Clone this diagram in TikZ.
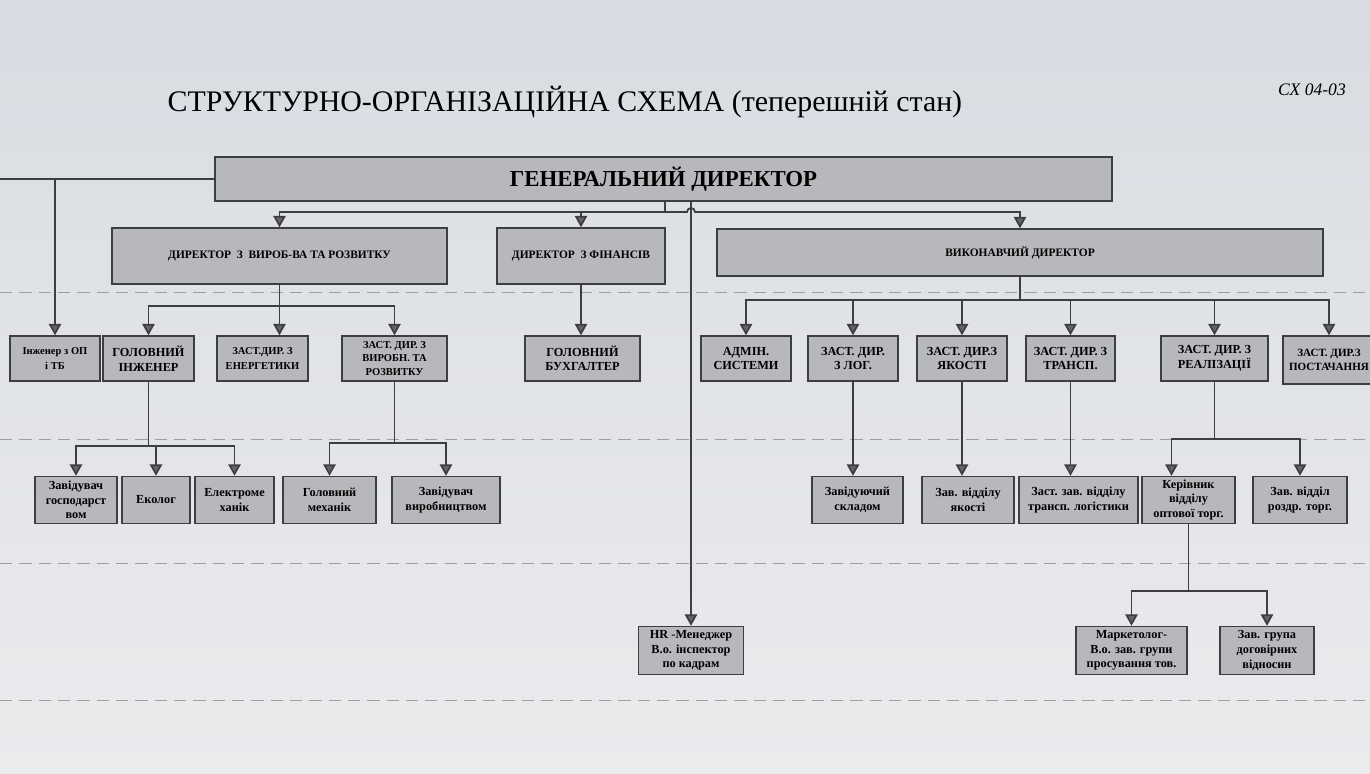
\documentclass[tikz,border=0pt]{standalone}
\usepackage{fontspec}
\setmainfont{Liberation Serif}
\usetikzlibrary{arrows.meta}
\definecolor{papertop}{RGB}{216,220,226}
\definecolor{paperbot}{RGB}{234,235,237}
\definecolor{boxgray}{RGB}{182,184,187}
\definecolor{linegray}{RGB}{62,62,64}
\tikzset{
  box/.style = {draw=linegray, fill=boxgray, line width=0.8pt, align=center, inner sep=1pt,
                font=\bfseries\fontsize{7}{8.3}\selectfont},
  sz/.style 2 args = {minimum width=#1*0.02cm, minimum height=#2*0.02cm},
  ln/.style = {draw=linegray, line width=1pt},
  arr/.style = {ln, -{Triangle[width=7pt,length=6.5pt,fill=linegray!80]}},
  guide/.style = {draw=black!38, dash pattern=on 7pt off 4pt, line width=0.5pt}
}
\begin{document}
\begin{tikzpicture}[x=0.02cm, y=-0.02cm]
\useasboundingbox (0,0) rectangle (1370,774);
\shade[top color=papertop, bottom color=paperbot] (0,0) rectangle (1370,774);
\clip (0,0) rectangle (1370,774);
% dashed level lines
\foreach \yy in {292, 439, 563, 700}
  \draw[guide] (0,\yy) -- (1370,\yy);
\node[font=\fontsize{17}{20}\selectfont] (title) at (565,102) {СТРУКТУРНО-ОРГАНІЗАЦІЙНА СХЕМА (теперешній стан)};
\node[font=\itshape\fontsize{10}{12}\selectfont] (code) at (1312,90) {СХ 04-03};
\begin{scope}[every node/.style = {box}]
% top
\node[sz={897}{44}, font=\bfseries\fontsize{13}{15}\selectfont] (gd) at (663.5,179) {ГЕНЕРАЛЬНИЙ ДИРЕКТОР};
% directors
\node[sz={335}{56}, font=\bfseries\fontsize{6.5}{8}\selectfont] (dv) at (279.5,256) {ДИРЕКТОР\ \ З\ \ ВИРОБ-ВА ТА РОЗВИТКУ};
\node[sz={168}{56}, font=\bfseries\fontsize{6.5}{8}\selectfont] (df) at (581,256) {ДИРЕКТОР\ \ З ФІНАНСІВ};
\node[sz={606}{47}, font=\bfseries\fontsize{6.5}{8}\selectfont] (dx) at (1020,252.5) {ВИКОНАВЧИЙ ДИРЕКТОР};
% deputies
\node[sz={90}{45}, font=\bfseries\fontsize{6}{8}\selectfont] (ie) at (55,358.5) {Інженер з ОП\\і ТБ};
\node[sz={91}{45}] (gi) at (148.5,358.5) {ГОЛОВНИЙ\\ІНЖЕНЕР};
\node[sz={91}{45}, font=\bfseries\fontsize{6}{8}\selectfont] (ze) at (262.5,358.5) {ЗАСТ.ДИР. З\\ЕНЕРГЕТИКИ};
\node[sz={105}{45}, font=\bfseries\fontsize{6}{7.5}\selectfont] (zv) at (394.5,358.5) {ЗАСТ. ДИР. З\\ВИРОБН. ТА\\РОЗВИТКУ};
\node[sz={115}{45}] (gb) at (582.5,358.5) {ГОЛОВНИЙ\\БУХГАЛТЕР};
\node[sz={90}{45}] (ad) at (746,358.5) {АДМІН.\\СИСТЕМИ};
\node[sz={90}{45}] (zl) at (853,358.5) {ЗАСТ. ДИР.\\З ЛОГ.};
\node[sz={90}{45}] (zk) at (962,358.5) {ЗАСТ. ДИР.З\\ЯКОСТІ};
\node[sz={89}{45}] (zt) at (1070.5,358.5) {ЗАСТ. ДИР. З\\ТРАНСП.};
\node[sz={107}{45}] (zr) at (1214.5,358.5) {ЗАСТ. ДИР. З\\РЕАЛІЗАЦІЇ};
\node[sz={92}{48}, font=\bfseries\fontsize{6.3}{8}\selectfont] (zp) at (1329,360) {ЗАСТ. ДИР.З\\ПОСТАЧАННЯ};
% departments
\node[sz={82}{47}] (zg) at (76,500) {Завідувач\\господарст\\вом};
\node[sz={68}{47}] (ek) at (156,500) {Еколог};
\node[sz={79}{47}] (em) at (234.5,500) {Електроме\\ханік};
\node[sz={93}{47}] (gm) at (329.5,500) {Головний\\механік};
\node[sz={108}{47}] (zw) at (446,500) {Завідувач\\виробництвом};
\node[sz={91}{47}] (zs) at (857.5,500) {Завідуючий\\складом};
\node[sz={92}{47}] (zy) at (968,500) {Зав. відділу\\якості};
\node[sz={119}{47}] (zz) at (1078.5,500) {Заст. зав. відділу\\трансп. логістики};
\node[sz={93}{47}] (kv) at (1188.5,500) {Керівник\\відділу\\оптової торг.};
\node[sz={94}{47}] (zd) at (1300,500) {Зав. відділ\\роздр. торг.};
% groups
\node[sz={105}{48}] (hr) at (691,650.5) {HR -Менеджер\\В.о. інспектор\\по кадрам};
\node[sz={111}{48}] (mk) at (1131.5,650.5) {Маркетолог-\\В.о. зав. групи\\просування тов.};
\node[sz={94}{48}] (zgr) at (1267,650.5) {Зав. група\\договірних\\відносин};
\end{scope}
% junctions
\coordinate (le) at (0,179);
\coordinate (gdj) at (665,212);
\coordinate (hop) at (687,212);
\coordinate (dvj) at (279.5,306);
\coordinate (dxj) at (1020,300);
\coordinate (gij) at (148.5,446);
\coordinate (zvj) at (394.5,443);
\coordinate (zrj) at (1214.5,439);
\coordinate (kvj) at (1188.5,591);
% connectors
\draw[ln] (gd.west) -- (le);
\draw[arr] (gd.west -| ie.north) -- (ie.north);
\draw[ln] (gd.south -| gdj) -- (gdj);
\draw[arr] (gdj) -| (dv.north);
\draw[arr] (gdj) -| (df.north);
\draw[arr] (gdj) -- (hop) arc[start angle=180, end angle=360, radius=4] -| (dx.north);
\draw[arr] (gd.south -| hr.north) -- (hr.north);
\draw[ln] (dv.south) -- (dvj);
\draw[arr] (dvj) -| (gi.north);
\draw[arr] (dvj) -- (dvj |- ze.north);
\draw[arr] (dvj) -| (zv.north);
\draw[arr] (df.south) -- (df.south |- gb.north);
\draw[ln] (dx.south) -- (dxj);
\foreach \nn in {ad, zl, zk, zt, zr, zp}
  \draw[arr] (dxj) -| (\nn.north);
\draw[ln] (gi.south) -- (gij);
\foreach \nn in {zg, ek, em}
  \draw[arr] (gij) -| (\nn.north);
\draw[ln] (zv.south) -- (zvj);
\foreach \nn in {gm, zw}
  \draw[arr] (zvj) -| (\nn.north);
\draw[arr] (zl.south) -- (zl.south |- zs.north);
\draw[arr] (zk.south) -- (zk.south |- zy.north);
\draw[arr] (zt.south) -- (zt.south |- zz.north);
\draw[ln] (zr.south) -- (zrj);
\draw[arr] (zrj) -| ([xshift=-0.34cm]kv.north);
\draw[arr] (zrj) -| (zd.north);
\draw[ln] (kv.south) -- (kvj);
\foreach \nn in {mk, zgr}
  \draw[arr] (kvj) -| (\nn.north);
\end{tikzpicture}
\end{document}
